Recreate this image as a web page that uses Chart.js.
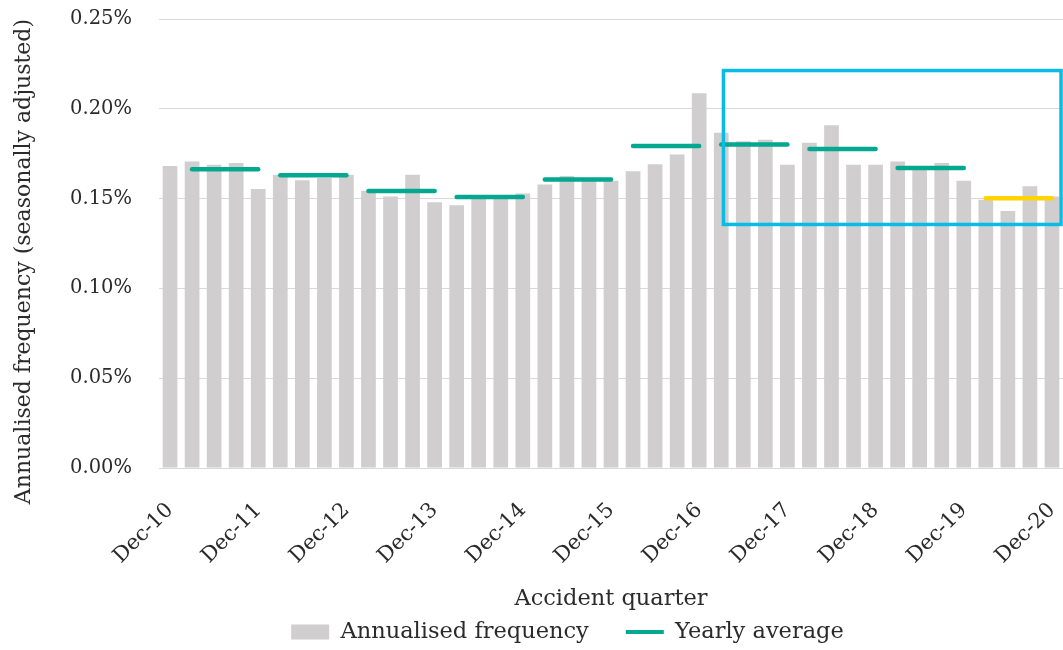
<!DOCTYPE html>
<html>
<head>
<meta charset="utf-8">
<title>Annualised frequency by accident quarter</title>
<script src="https://cdn.jsdelivr.net/npm/chart.js@4.4.1/dist/chart.umd.min.js"></script>
<style>
  html, body { margin: 0; padding: 0; background: #ffffff; }
  #wrap { width: 1063px; height: 650px; }
</style>
</head>
<body>
<div id="wrap"><canvas id="freq" width="1063" height="650"></canvas></div>
<script>
// ---- data ---------------------------------------------------------------
const quarterLabels = [
  'Dec-10',
  'Mar-11', 'Jun-11', 'Sep-11', 'Dec-11',
  'Mar-12', 'Jun-12', 'Sep-12', 'Dec-12',
  'Mar-13', 'Jun-13', 'Sep-13', 'Dec-13',
  'Mar-14', 'Jun-14', 'Sep-14', 'Dec-14',
  'Mar-15', 'Jun-15', 'Sep-15', 'Dec-15',
  'Mar-16', 'Jun-16', 'Sep-16', 'Dec-16',
  'Mar-17', 'Jun-17', 'Sep-17', 'Dec-17',
  'Mar-18', 'Jun-18', 'Sep-18', 'Dec-18',
  'Mar-19', 'Jun-19', 'Sep-19', 'Dec-19',
  'Mar-20', 'Jun-20', 'Sep-20', 'Dec-20'
];

// annualised claim frequency, % (seasonally adjusted)
const annualisedFrequency = [
  0.1682,
  0.1706, 0.1689, 0.1698, 0.1554,
  0.1633, 0.1602, 0.1615, 0.1633,
  0.1544, 0.1511, 0.1633, 0.1480,
  0.1463, 0.1505, 0.1510, 0.1528,
  0.1578, 0.1626, 0.1604, 0.1600,
  0.1652, 0.1691, 0.1746, 0.2087,
  0.1867, 0.1820, 0.1828, 0.1689,
  0.1811, 0.1909, 0.1689, 0.1689,
  0.1706, 0.1665, 0.1698, 0.1600,
  0.1494, 0.1431, 0.1569, 0.1512
];

const averageYears  = [2011, 2012, 2013, 2014, 2015, 2016, 2017, 2018, 2019, 2020];
const yearlyAverage = [0.1663, 0.1630, 0.1543, 0.1509, 0.1606, 0.1793, 0.1801, 0.1776, 0.1670, 0.1502];

const yTickValues = [0, 0.05, 0.10, 0.15, 0.20, 0.25];

// year whose average is shown in the accent colour
const latestYear = 2020;

// region of recent quarters framed on the plot (quarter index / frequency %)
const focusFrame = { fromQuarter: 25.1, toQuarter: 40.41, low: 0.1356, high: 0.2213 };

// ---- styling ------------------------------------------------------------
const FONT = "'DejaVu Serif', serif";
const TEXT = '#2b2b2b';
const GRID = '#d9d9d9';
const BAR = '#d0cece';
const TEAL = '#04a78f';
const GOLD = '#ffd400';
const FRAME = '#0abbe6';

const LEGEND_TEXT_Y = 632;
const LEGEND_SHIFT_X = 36;

// ---- derived series -----------------------------------------------------
const quarterYear = quarterLabels.map(l => 2000 + Number(l.slice(-2)));
const averageLine = quarterYear.map(yr => {
  const k = averageYears.indexOf(yr);
  return k < 0 ? null : yearlyAverage[k];
});

// ---- plugins ------------------------------------------------------------
const legendPlacement = {
  id: 'legendPlacement',
  afterLayout(chart) {
    const lg = chart.legend;
    if (!lg) return;
    const lab = lg.options.labels;
    const dy = LEGEND_TEXT_Y - (lg.top + lab.padding + lab.font.size / 2);
    lg.top += dy; lg.bottom += dy;
    lg.left += LEGEND_SHIFT_X; lg.right += LEGEND_SHIFT_X;
  }
};

const focusFramePlugin = {
  id: 'focusFrame',
  afterDatasetsDraw(chart) {
    const { ctx, scales: { x, y } } = chart;
    const x0 = x.getPixelForValue(focusFrame.fromQuarter);
    const x1 = x.getPixelForValue(focusFrame.toQuarter);
    const y0 = y.getPixelForValue(focusFrame.high);
    const y1 = y.getPixelForValue(focusFrame.low);
    ctx.save();
    ctx.strokeStyle = FRAME;
    ctx.lineWidth = 3.5;
    ctx.strokeRect(x0, y0, x1 - x0, y1 - y0);
    ctx.restore();
  }
};

// ---- chart --------------------------------------------------------------
Chart.defaults.font.family = FONT;
Chart.defaults.color = TEXT;

new Chart(document.getElementById('freq'), {
  data: {
    labels: quarterLabels,
    datasets: [
      {
        type: 'bar',
        label: 'Annualised frequency',
        data: annualisedFrequency,
        backgroundColor: BAR,
        borderWidth: 0,
        barPercentage: 0.667,
        categoryPercentage: 1.0,
        pointStyle: 'rect',
        order: 1
      },
      {
        type: 'line',
        label: 'Yearly average',
        data: averageLine,
        borderColor: TEAL,
        backgroundColor: TEAL,
        borderWidth: 4.5,
        borderCapStyle: 'round',
        pointRadius: 0,
        pointHoverRadius: 0,
        pointStyle: 'line',
        pointBorderColor: TEAL,
        pointBorderWidth: 4,
        spanGaps: false,
        tension: 0,
        order: 0,
        segment: {
          borderColor: c => {
            const a = quarterYear[c.p0DataIndex];
            const b = quarterYear[c.p1DataIndex];
            if (a !== b) return 'rgba(0,0,0,0)';
            return a === latestYear ? GOLD : TEAL;
          }
        }
      }
    ]
  },
  options: {
    responsive: false,
    animation: false,
    events: [],
    devicePixelRatio: 1,
    layout: { padding: { top: 19, right: 0, bottom: -37, left: 0 } },
    plugins: {
      tooltip: { enabled: false },
      legend: {
        position: 'bottom',
        labels: {
          usePointStyle: true,
          pointStyleWidth: 38,
          boxHeight: 15,
          padding: 37,
          color: TEXT,
          font: { family: FONT, size: 22.5 },
          sort: (a, b) => a.datasetIndex - b.datasetIndex
        }
      }
    },
    scales: {
      x: {
        offset: true,
        grid: { display: false, drawTicks: false },
        border: { display: false },
        ticks: {
          autoSkip: false,
          minRotation: 45,
          maxRotation: 45,
          padding: 30,
          color: TEXT,
          font: { family: FONT, size: 21 },
          callback: (v, i) => quarterLabels[i].startsWith('Dec') ? quarterLabels[i] : ''
        },
        title: {
          display: true,
          text: 'Accident quarter',
          color: TEXT,
          font: { family: FONT, size: 22.5 },
          padding: { top: 0, bottom: 5 }
        },
        afterFit: s => { s.height = 149.5; s.paddingLeft = 0; s.paddingRight = 0; }
      },
      y: {
        min: yTickValues[0],
        max: yTickValues[yTickValues.length - 1],
        grid: { color: GRID, lineWidth: 1, drawTicks: false },
        border: { display: false },
        afterBuildTicks: s => { s.ticks = yTickValues.map(v => ({ value: v })); },
        ticks: {
          padding: 27,
          color: TEXT,
          font: { family: FONT, size: 19.5 },
          callback: v => v.toFixed(2) + '%'
        },
        title: {
          display: true,
          text: 'Annualised frequency (seasonally adjusted)',
          align: 'end',
          color: TEXT,
          font: { family: FONT, size: 22 },
          padding: { top: 11, bottom: 0 }
        },
        afterFit: s => { s.width = 159; s.paddingTop = 0; s.paddingBottom = 0; }
      }
    }
  },
  plugins: [legendPlacement, focusFramePlugin]
});
</script>
</body>
</html>
